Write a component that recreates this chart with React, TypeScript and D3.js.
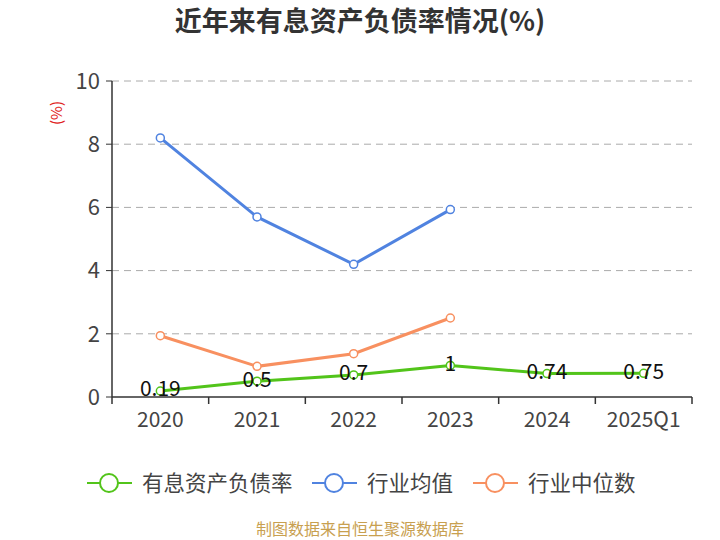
import React from "react";
import * as d3 from "d3";

const categories = ["2020", "2021", "2022", "2023", "2024", "2025Q1"];
const companyRate = [0.19, 0.5, 0.7, 1, 0.74, 0.75];
const industryAvg = [8.2, 5.7, 4.2, 5.93, null, null];
const industryMedian = [1.94, 0.97, 1.37, 2.5, null, null];
const yTicks = [0, 2, 4, 6, 8, 10];

const seriesNames = ["有息资产负债率", "行业均值", "行业中位数"];
const colors = ["#52c41a", "#5083e0", "#f89060"];

const W = 720;
const H = 540;
const margin = { left: 112, right: 28, top: 81, bottom: 143 };
const FONT = "'Microsoft YaHei', 'Noto Sans CJK SC', 'Noto Sans', sans-serif";

export default function App() {
  const x = d3
    .scaleBand<string>()
    .domain(categories)
    .range([margin.left, W - margin.right]);
  const y = d3
    .scaleLinear()
    .domain([0, 10])
    .range([H - margin.bottom, margin.top]);
  const cx = (c: string) => (x(c) ?? 0) + x.bandwidth() / 2;

  const line = d3
    .line<number | null>()
    .defined((d) => d != null)
    .x((_, i) => cx(categories[i]))
    .y((d) => y(d as number));

  const allSeries = [companyRate, industryAvg, industryMedian];
  const drawOrder = [1, 2, 0];
  const y0 = y(0);

  const legendX = [87, 312, 473];
  const legendY = 483;

  return (
    <svg width={W} height={H} style={{ position: "absolute", left: 0, top: 0, fontFamily: FONT }}>
      <rect width={W} height={H} fill="#fff" />
      <text x={360} y={31} textAnchor="middle" fontSize={27} fontWeight="bold" fill="#333">
        近年来有息资产负债率情况(%)
      </text>
      <text
        transform={`translate(62, 113) rotate(-90)`}
        textAnchor="middle"
        fontSize={15}
        fill="#e02020"
      >
        (%)
      </text>
      {yTicks.map((t) => (
        <g key={t}>
          {t !== 0 && (
            <line
              x1={margin.left}
              x2={W - margin.right}
              y1={y(t)}
              y2={y(t)}
              stroke="#aaa"
              strokeDasharray="7,5"
              strokeWidth={1}
            />
          )}
          <line x1={margin.left - 6} x2={margin.left} y1={y(t)} y2={y(t)} stroke="#333" />
          <text x={margin.left - 12} y={y(t)} dy="0.35em" textAnchor="end" fontSize={22} fill="#444">
            {t}
          </text>
        </g>
      ))}
      <line x1={margin.left} x2={margin.left} y1={margin.top} y2={y0} stroke="#333" strokeWidth={1.5} />
      <line x1={margin.left} x2={W - margin.right} y1={y0} y2={y0} stroke="#333" strokeWidth={1.5} />
      {[...categories.map((c) => x(c) ?? 0), W - margin.right].map((px, i) => (
        <line key={i} x1={px} x2={px} y1={y0} y2={y0 + 7} stroke="#333" strokeWidth={1.5} />
      ))}
      {categories.map((c) => (
        <text key={c} x={cx(c)} y={y0 + 30} textAnchor="middle" fontSize={21} fill="#444">
          {c}
        </text>
      ))}
      {drawOrder.map((si) => (
        <g key={si}>
          <path d={line(allSeries[si]) ?? ""} fill="none" stroke={colors[si]} strokeWidth={3} />
          {allSeries[si].map((v, i) =>
            v == null ? null : (
              <circle
                key={i}
                cx={cx(categories[i])}
                cy={y(v)}
                r={4}
                fill="#fff"
                stroke={colors[si]}
                strokeWidth={1.5}
              />
            )
          )}
        </g>
      ))}
      {companyRate.map((v, i) => (
        <text key={i} x={cx(categories[i])} y={y(v) - 2} dy="0.35em" textAnchor="middle" fontSize={21} fill="#111">
          {v}
        </text>
      ))}
      {seriesNames.map((n, i) => (
        <g key={n}>
          <line x1={legendX[i]} x2={legendX[i] + 45} y1={legendY} y2={legendY} stroke={colors[i]} strokeWidth={2} />
          <circle cx={legendX[i] + 22} cy={legendY} r={9} fill="#fff" stroke={colors[i]} strokeWidth={2} />
          <text x={legendX[i] + 55} y={legendY} dy="0.35em" fontSize={21.5} fill="#444">
            {n}
          </text>
        </g>
      ))}
      <text x={360} y={535} textAnchor="middle" fontSize={16} fill="#c8a050">
        制图数据来自恒生聚源数据库
      </text>
    </svg>
  );
}
